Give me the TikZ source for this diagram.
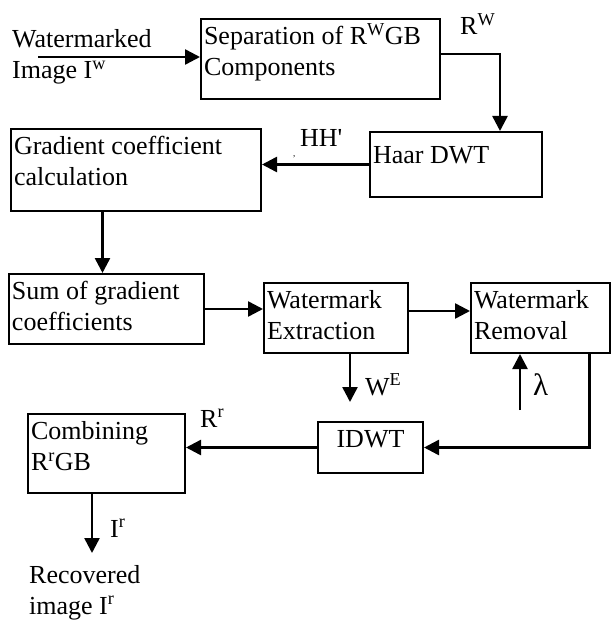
\documentclass[tikz,border=0pt]{standalone}
\usepackage{fontspec}
\setmainfont{Liberation Serif}
\usetikzlibrary{arrows.meta}
\tikzset{
  every picture/.style={font={\fontsize{26}{31}\selectfont}, >={Triangle[length=15pt,width=15pt]}},
  blk/.style={draw, line width=2pt, inner xsep=3pt, inner ysep=4pt, anchor=north west},
  flow/.style={->, line width=2.5pt},
  lbl/.style={inner sep=0pt, anchor=base west}}
\newcommand{\inbox}[3]{\parbox[c][#2][t]{#1}{\strut #3}}

\begin{document}
\begin{tikzpicture}[x=1pt, y=-1pt]
    \useasboundingbox (0,0) rectangle (610,620);
    % blocks
    \node [blk] (sep) at (200,18) {\inbox{233pt}{72pt}{Separation of R\textsuperscript{W}GB\\Components}};
    \node [blk] (haar) at (369,131) {\inbox{166pt}{57pt}{\rule{0pt}{28pt}Haar DWT}};
    \node [blk] (grad) at (10,128) {\inbox{244pt}{74pt}{Gradient coefficient\\calculation}};
    \node [blk] (sum) at (8,273) {\inbox{189pt}{62pt}{Sum of gradient\\coefficients}};
    \node [blk] (extr) at (263,282) {\inbox{138pt}{62pt}{Watermark\\Extraction}};
    \node [blk] (remv) at (470,282) {\inbox{133pt}{62pt}{Watermark\\Removal}};
    \node [blk] (idwt) at (317,421) {\inbox{99pt}{43pt}{\centering IDWT}};
    \node [blk] (comb) at (27,413) {\inbox{151pt}{71pt}{Combining\\R\textsuperscript{r}GB}};
    % labels
    \node [lbl] (wmk) at (12,48) {\parbox[t]{160pt}{Watermarked\\Image I\textsuperscript{w}}};
    \node [lbl] (rw) at (460,35) {R\textsuperscript{W}};
    \node [lbl] (hh) at (300,147) {HH\textquotesingle};
    \node [lbl, font=\fontsize{9}{10}\selectfont] (cm) at (293,157) {,};
    \node [lbl] (we) at (365,395) {W\textsuperscript{E}};
    \node [lbl, font=\fontsize{31}{36}\selectfont] (lam) at (533,395) {λ};
    \node [lbl] (rr) at (200,427) {R\textsuperscript{r}};
    \node [lbl] (ir) at (110,537) {I\textsuperscript{r}};
    \node [lbl] (rec) at (29,583) {\parbox[t]{160pt}{Recovered\\image I\textsuperscript{r}}};
    % free ends
    \coordinate (inS) at (38,57);
    \coordinate (wEnd) at (350,402);
    \coordinate (lamS) at (520,410);
    \coordinate (irEnd) at (92,553);
    % connectors
    \draw [flow] (inS) -- (inS -| sep.west);
    \draw [flow] ([yshift=5pt]sep.east) -| ([xshift=44pt]haar.north);
    \draw [flow] (haar.west) -- (haar.west -| grad.east);
    \draw [flow] ([xshift=-4pt]grad.south -| sum.north) -- ([xshift=-4pt]sum.north);
    \draw [flow] (sum.east) -- (sum.east -| extr.west);
    \draw [flow] ([yshift=7pt]extr.east) -- ([yshift=7pt]extr.east -| remv.west);
    \draw [flow] (wEnd |- extr.south) -- (wEnd);
    \draw [flow] (lamS) -- (lamS |- remv.south);
    \draw [flow] ([xshift=49pt]remv.south) |- (idwt.east);
    \draw [flow] (idwt.west) -- (idwt.west -| comb.east);
    \draw [flow] (irEnd |- comb.south) -- (irEnd);
\end{tikzpicture}
\end{document}
